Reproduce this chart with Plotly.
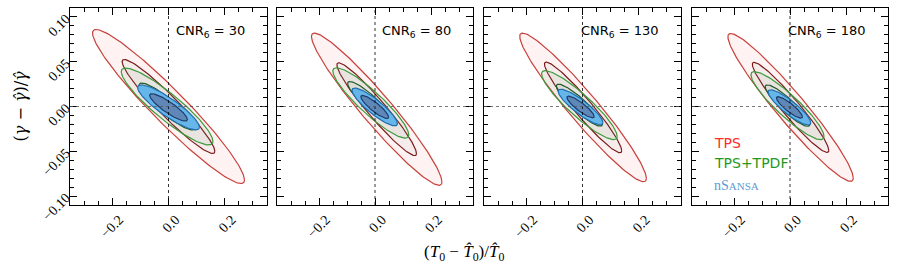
import numpy as np
import plotly.graph_objects as go
from plotly.subplots import make_subplots

# ---- data ----
cnr_labels = ["30", "80", "130", "180"]

# TPS posterior (Gaussian approximation per panel)
tps_sx = [0.1086, 0.0937, 0.0905, 0.0900]
tps_sy = [0.0346, 0.0342, 0.0334, 0.0332]
tps_rho = [-0.953, -0.955, -0.955, -0.955]
tps_cx = [0.0, 0.006, 0.002, 0.002]
tps_cy = [0.0, -0.003, -0.001, -0.001]

# TPS+TPDF posterior
tpdf_sx = [0.0655, 0.0545, 0.0540, 0.0525]
tpdf_sy = [0.0173, 0.0158, 0.0155, 0.0153]
tpdf_rho = [-0.905, -0.905, -0.905, -0.905]
tpdf_cx = [-0.005, -0.015, -0.011, -0.009]
tpdf_cy = [0.0, 0.004, 0.0015, 0.001]

# nSansa posterior
ns_sx = [0.0442, 0.0326, 0.0320, 0.0306]
ns_sy = [0.0101, 0.0085, 0.0080, 0.0079]
ns_rho = [-0.88, -0.88, -0.88, -0.88]
ns_cx = [0.0, -0.001, -0.007, -0.002]
ns_cy = [-0.001, -0.0005, -0.0005, -0.001]

x_ticks = [-0.2, 0.0, 0.2]
y_ticks = [-0.10, -0.05, 0.0, 0.05, 0.10]

K1, K2 = 2.30, 6.18  # 68% and 95% levels for 2 parameters


def ellipse(cx, cy, sx, sy, rho, k, n=200):
    t = np.linspace(0, 2 * np.pi, n)
    r = np.sqrt(k)
    x = cx + r * sx * np.cos(t)
    y = cy + r * sy * (rho * np.cos(t) + np.sqrt(1 - rho ** 2) * np.sin(t))
    return x, y


fig = make_subplots(rows=1, cols=4, shared_yaxes=True, horizontal_spacing=0.013)

styles = [
    ("tps", K2, "#c8403a", "rgba(240,90,90,0.08)"),
    ("tps", K1, "#7a1c1c", "rgba(200,200,200,0.12)"),
    ("tpdf", K2, "#3b9a3b", "rgba(120,160,120,0.10)"),
    ("tpdf", K1, "#1f5a2a", "rgba(120,160,120,0.10)"),
    ("ns", K2, "#1f6fb0", "#66b6ea"),
    ("ns", K1, "#1c3c6c", "#5f88b8"),
]
params = {
    "tps": (tps_cx, tps_cy, tps_sx, tps_sy, tps_rho),
    "tpdf": (tpdf_cx, tpdf_cy, tpdf_sx, tpdf_sy, tpdf_rho),
    "ns": (ns_cx, ns_cy, ns_sx, ns_sy, ns_rho),
}

for i in range(4):
    for key, k, lc, fc in styles:
        cx, cy, sx, sy, rho = params[key]
        x, y = ellipse(cx[i], cy[i], sx[i], sy[i], rho[i], k)
        fig.add_trace(
            go.Scatter(x=x, y=y, mode="lines", fill="toself", fillcolor=fc,
                       line=dict(color=lc, width=1.2), hoverinfo="skip",
                       showlegend=False),
            row=1, col=i + 1,
        )

W, H = 897, 269
left_px = [70, 277, 484, 692]
right_px = [267, 473, 681, 888]
ml, mr, mt, mb = 70, 9, 8, 64
pw = W - ml - mr
ph = H - mt - mb

tickfont = dict(family="Liberation Serif, serif", size=14, color="black")
for i in range(4):
    ax = "xaxis" if i == 0 else f"xaxis{i+1}"
    fig.layout[ax].update(
        domain=[(left_px[i] - ml) / pw, (right_px[i] - ml) / pw],
        range=[-0.35, 0.35], tickvals=x_ticks, tickformat=".1f",
        ticks="inside", ticklen=7, tickwidth=1, tickcolor="black",
        mirror="allticks", showline=True, linecolor="black", linewidth=1.2,
        showgrid=False, zeroline=False, tickangle=-45, tickfont=tickfont,
        automargin=False, ticklabelshift=7,
        minor=dict(dtick=0.05, tick0=0, ticks="inside", ticklen=3.5,
                   tickcolor="black", showgrid=False),
    )
    ay = "yaxis" if i == 0 else f"yaxis{i+1}"
    fig.layout[ay].update(
        range=[-0.11, 0.11], tickvals=y_ticks, tickformat=".2f",
        ticks="inside", ticklen=7, tickwidth=1, tickcolor="black",
        mirror="allticks", showline=True, linecolor="black", linewidth=1.2,
        showgrid=False, zeroline=False, tickangle=-45, tickfont=tickfont,
        automargin=False,
        minor=dict(dtick=0.01, tick0=0, ticks="inside", ticklen=3.5,
                   tickcolor="black", showgrid=False),
    )
    xr = "x" if i == 0 else f"x{i+1}"
    yr = "y" if i == 0 else f"y{i+1}"
    fig.add_shape(type="line", xref=xr, yref=f"{yr} domain", x0=0, x1=0,
                  y0=0, y1=1, line=dict(color="black", width=0.8, dash="dot"))
    fig.add_shape(type="line", xref=f"{xr} domain", yref=yr, x0=0, x1=1,
                  y0=0, y1=0, line=dict(color="#555555", width=0.8, dash="dot"))
    fig.add_annotation(
        xref=f"{xr} domain", yref=f"{yr} domain", x=0.9, y=0.88,
        xanchor="right", yanchor="middle", showarrow=False,
        text=f"CNR<sub>6</sub> = {cnr_labels[i]}",
        font=dict(family="DejaVu Sans, sans-serif", size=13, color="black"),
    )

leg = [
    ("TPS", "#ff2a2a", 0.315, "DejaVu Sans, sans-serif"),
    ("TPS+TPDF", "#229922", 0.212, "DejaVu Sans, sans-serif"),
    ("nS<span style='font-size:11px'>ANSA</span>", "#5b9bd5", 0.10,
     "Liberation Serif, serif"),
]
for txt, col, yy, fam in leg:
    fig.add_annotation(xref="x4 domain", yref="y4 domain", x=0.10, y=yy,
                       xanchor="left", yanchor="middle", showarrow=False,
                       text=txt, font=dict(family=fam, size=14, color=col))

fig.add_annotation(xref="paper", yref="paper", x=(20 - ml) / pw, y=0.5,
                   xanchor="center", yanchor="middle", textangle=-90,
                   showarrow=False,
                   text="(<i>γ</i>\u00a0−\u00a0<i>γ̂</i>)/<i>γ̂</i>",
                   font=dict(family="DejaVu Serif, serif", size=16, color="black"))
fig.add_annotation(xref="paper", yref="paper", x=(464 - ml) / pw,
                   y=(205 - 253) / ph,
                   xanchor="center", yanchor="middle", showarrow=False,
                   text="(<i>T</i><sub>0</sub> − <i>T̂</i><sub>0</sub>)/<i>T̂</i><sub>0</sub>",
                   font=dict(family="Liberation Serif, serif", size=17, color="black"))

fig.update_layout(
    width=W, height=H, margin=dict(l=ml, r=mr, t=mt, b=mb, autoexpand=False),
    plot_bgcolor="white", paper_bgcolor="white", showlegend=False,
)

fig.write_html("out.html", config={"displayModeBar": False},
               post_script="document.body.style.margin='0px';")
